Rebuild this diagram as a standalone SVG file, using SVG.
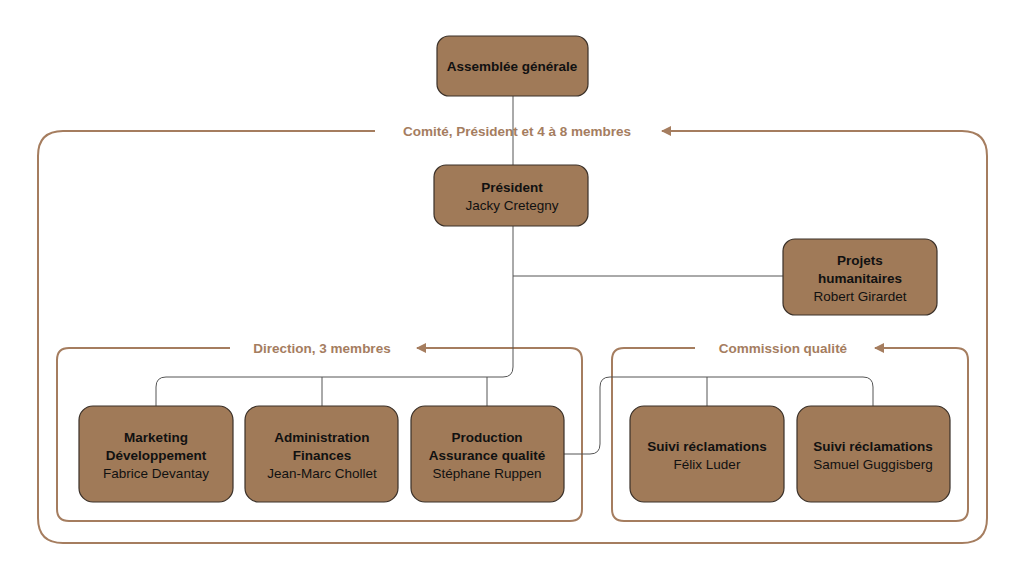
<svg xmlns="http://www.w3.org/2000/svg" width="1024" height="579" viewBox="0 0 1024 579">
<style>
.n{fill:#a07a58;stroke:#3a3028;stroke-width:1.2}
.t{font-family:"Helvetica","Liberation Sans",Arial,sans-serif;font-size:13.5px;fill:#111;text-anchor:middle}
.b{font-weight:bold}
.f{fill:none;stroke:#a57d5f;stroke-width:2}
.l{font-family:"Liberation Sans",Arial,sans-serif;font-size:13.5px;font-weight:bold;fill:#a57d5f;text-anchor:middle}
.c{fill:none;stroke:#555;stroke-width:1}
</style>
<defs><marker id="a" viewBox="0 0 10 10" refX="9" refY="5" markerWidth="5" markerHeight="5" orient="auto"><path d="M0,0L10,5L0,10z" fill="#a57d5f"/></marker></defs>
<rect width="1024" height="579" fill="#fff"/>
<g id="frames">
<path class="f" d="M375,131H63Q38,131 38,156V518Q38,543 63,543H962Q987,543 987,518V156Q987,131 962,131H662" marker-end="url(#a)"/>
<text class="l" x="517" y="136">Comité, Président et 4 à 8 membres</text>
<path class="f" d="M230,348H69Q57,348 57,360V509Q57,521 69,521H570Q582,521 582,509V360Q582,348 570,348H417" marker-end="url(#a)"/>
<text class="l" x="322" y="353">Direction, 3 membres</text>
<path class="f" d="M695,348H624Q612,348 612,360V509Q612,521 624,521H956Q968,521 968,509V360Q968,348 956,348H875" marker-end="url(#a)"/>
<text class="l" x="783" y="353">Commission qualité</text>
</g>
<g id="connectors">
<path class="c" d="M513,96V165M513,226V367Q513,377 503,377H166Q156,377 156,387V406M322,377V406M487,377V406M513,276H783"/>
<path class="c" d="M564,454H590Q600,454 600,444V387Q600,377 610,377H863Q873,377 873,387V406M707,377V406"/>
</g>
<g id="assemblee"><rect class="n" x="437" y="36" width="151" height="60" rx="12"/><text class="t b" x="512" y="71">Assemblée générale</text></g>
<g id="president"><rect class="n" x="434" y="165" width="154" height="61" rx="12"/><text class="t b" x="512" y="192">Président</text><text class="t" x="512" y="210">Jacky Cretegny</text></g>
<g id="projets"><rect class="n" x="783" y="239" width="154" height="76" rx="12"/><text class="t b" x="860" y="265">Projets</text><text class="t b" x="860" y="283">humanitaires</text><text class="t" x="860" y="301">Robert Girardet</text></g>
<g id="marketing"><rect class="n" x="79" y="406" width="154" height="96" rx="14"/><text class="t b" x="156" y="442">Marketing</text><text class="t b" x="156" y="460">Développement</text><text class="t" x="156" y="478">Fabrice Devantay</text></g>
<g id="admin"><rect class="n" x="245" y="406" width="153" height="96" rx="14"/><text class="t b" x="322" y="442">Administration</text><text class="t b" x="322" y="460">Finances</text><text class="t" x="322" y="478">Jean-Marc Chollet</text></g>
<g id="production"><rect class="n" x="411" y="406" width="153" height="96" rx="14"/><text class="t b" x="487" y="442">Production</text><text class="t b" x="487" y="460">Assurance qualité</text><text class="t" x="487" y="478">Stéphane Ruppen</text></g>
<g id="suivi1"><rect class="n" x="630" y="406" width="154" height="96" rx="14"/><text class="t b" x="707" y="451">Suivi réclamations</text><text class="t" x="707" y="469">Félix Luder</text></g>
<g id="suivi2"><rect class="n" x="797" y="406" width="153" height="96" rx="14"/><text class="t b" x="873" y="451">Suivi réclamations</text><text class="t" x="873" y="469">Samuel Guggisberg</text></g>
</svg>
